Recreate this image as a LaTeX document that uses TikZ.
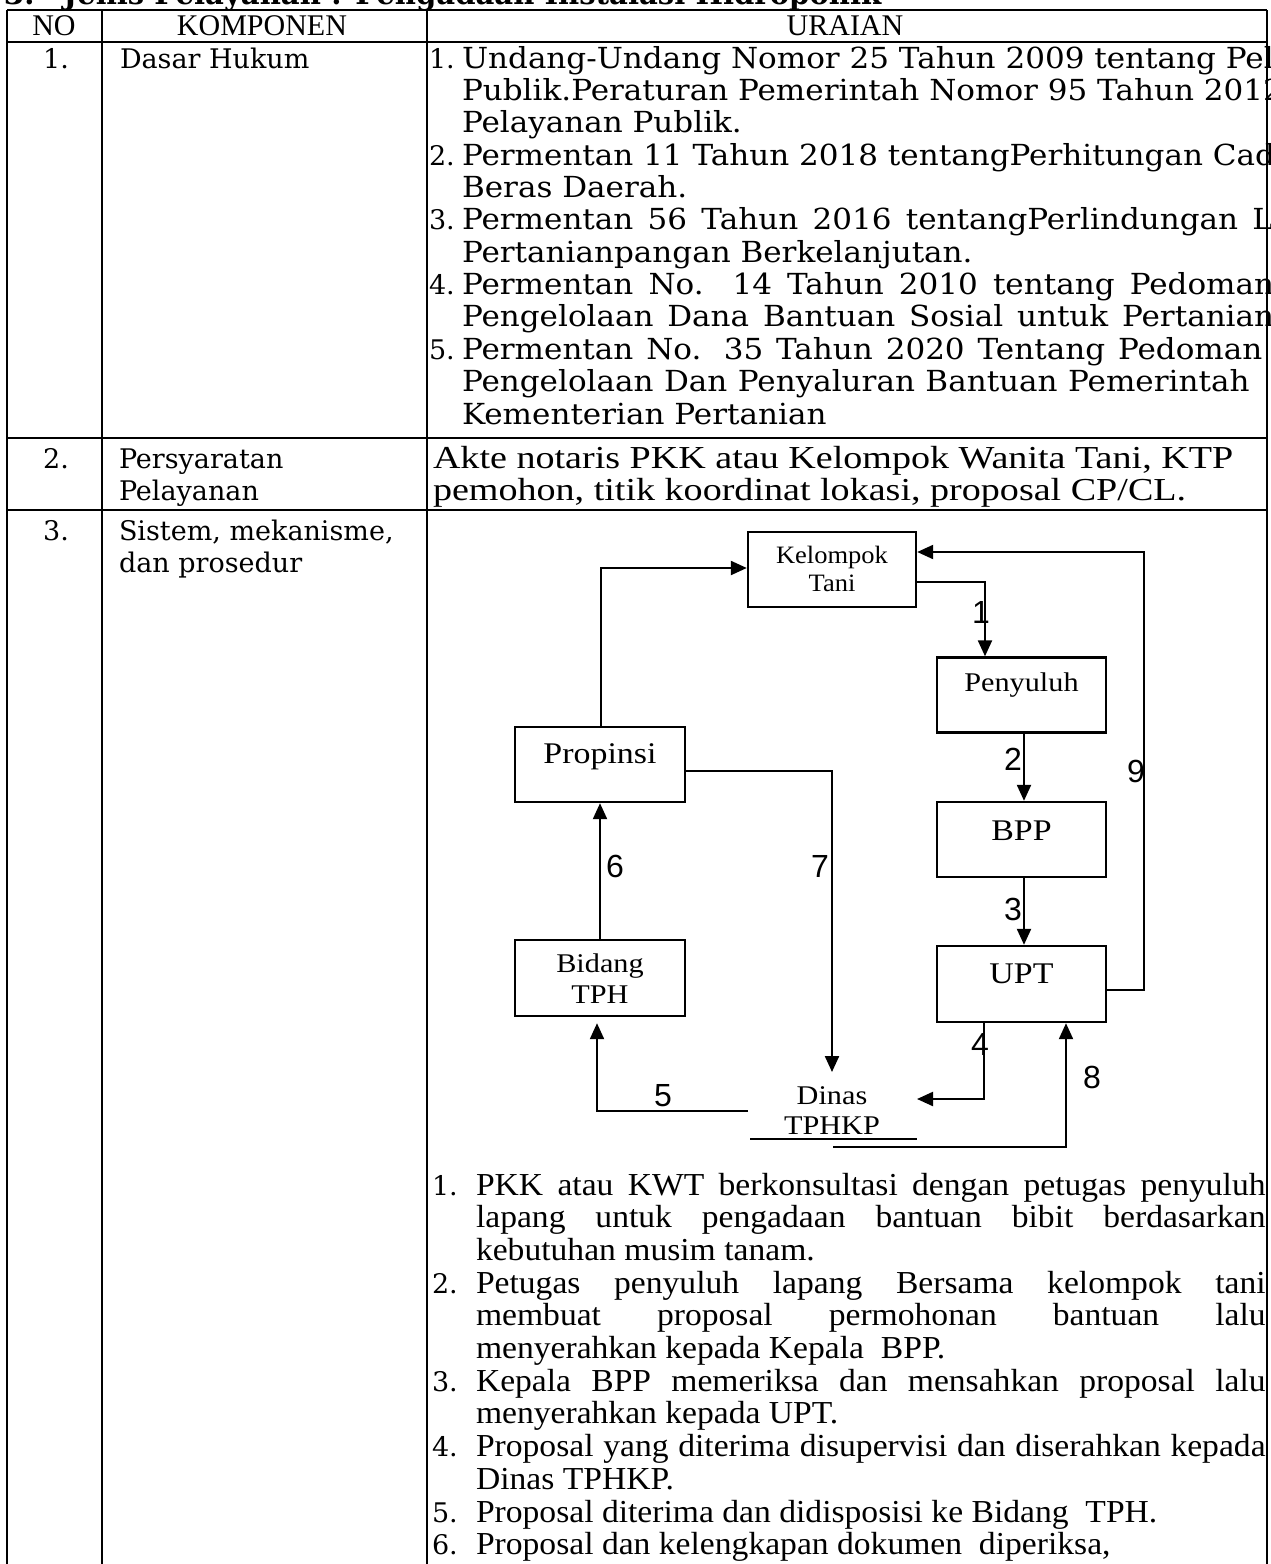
\documentclass[tikz,border=0pt]{standalone}
\usepackage{graphicx}
\usepackage{fontspec}
\setmainfont{Liberation Serif}
\newfontfamily\serifG{DejaVu Serif}
\newfontfamily\sansA{Liberation Sans}
\usetikzlibrary{arrows.meta,calc}

% wide serif used for the legal list and the item numbers
\newcommand\wideText[1]{\scalebox{1.07}[1]{\serifG\fontsize{29}{32}\selectfont #1}}
\newcommand\numText[1]{{\serifG\fontsize{27}{30}\selectfont #1}}
\newcommand\leftText[1]{{\serifG\fontsize{27}{30}\selectfont #1}}
% narrow serif variants
\newcommand\headText[1]{{\fontsize{30}{31}\selectfont #1}}
\newcommand\reqText[1]{\scalebox{1.19}[1]{\fontsize{32}{33}\selectfont #1}}
\newcommand\listText[1]{\scalebox{1.05}[1]{\fontsize{32}{33}\selectfont #1}}
\newcommand\smallBox[1]{\scalebox{1.12}[1]{\fontsize{27}{28}\selectfont #1}}
\newcommand\kelBox[1]{\scalebox{1.06}[1]{\fontsize{25}{26}\selectfont #1}}
\newcommand\bigBox[1]{\scalebox{1.13}[1]{\fontsize{30}{31}\selectfont #1}}

\begin{document}
\begin{tikzpicture}[x=1pt,y=-1pt,
  grid/.style={line width=2.2pt},
  txt/.style={anchor=base west,inner sep=0pt,outer sep=0pt},
  ctr/.style={anchor=base,inner sep=0pt,outer sep=0pt},
  box/.style={draw,line width=2.4pt,inner sep=0pt,minimum width=169pt,minimum height=75pt},
  flow/.style={line width=2.2pt,-{Triangle[length=16pt,width=14pt]}},
  wire/.style={line width=2.2pt},
  lbl/.style={font=\sansA\fontsize{32}{32}\selectfont,inner sep=0pt,outer sep=0pt}]

\useasboundingbox (0,0) rectangle (1270,1564);
\fill[white] (0,0) rectangle (1270,1564);

\begin{scope}
\clip (0,0) rectangle (1270,1564);

% heading above the table, mostly cut off by the page top
\node[txt] (title) at (4,4) {\scalebox{0.97}[1]{\serifG\bfseries\fontsize{30}{32}\selectfont 3.\hspace{30pt}Jenis Pelayanan : Pengadaan Instalasi Hidroponik}};

% table rules
\draw[grid] (7,10) -- (1267,10);
\draw[grid] (7,42) -- (1267,42);
\draw[grid] (7,438) -- (1267,438);
\draw[grid] (7,510) -- (1267,510);
\draw[grid] (7,10) -- (7,1564);
\draw[grid] (102,10) -- (102,1564);
\draw[grid] (427,10) -- (427,1564);
\draw[grid] (1267,10) -- (1267,1564);

% header row
\node[ctr] (hno) at (54,35) {\headText{NO}};
\node[ctr] (hkomp) at (262,35) {\headText{KOMPONEN}};
\node[ctr] (hur) at (845,35) {\headText{URAIAN}};

% row 1: legal basis
\node[ctr] (n1) at (56,68) {\numText{1.}};
\node[txt] (k1) at (120,68) {\leftText{Dasar Hukum}};

\node[txt] (a1) at (429,68) {\numText{1.}};
\node[txt] (a1l1) at (462,68) {\wideText{Undang-Undang Nomor 25 Tahun 2009 tentang Pelayanan}};
\node[txt] (a1l2) at (462,100.4) {\wideText{Publik.Peraturan Pemerintah Nomor 95 Tahun 2012 tentang}};
\node[txt] (a1l3) at (462,132.7) {\wideText{Pelayanan Publik.}};
\node[txt] (a2) at (429,165.1) {\numText{2.}};
\node[txt] (a2l1) at (462,165.1) {\wideText{Permentan 11 Tahun 2018 tentangPerhitungan Cadangan}};
\node[txt] (a2l2) at (462,197.4) {\wideText{Beras Daerah.}};
\node[txt] (a3) at (429,229.8) {\numText{3.}};
\node[txt] (a3l1) at (462,229.8) {\wideText{\makebox[830pt][s]{Permentan 56 Tahun 2016 tentangPerlindungan Lahan}}};
\node[txt] (a3l2) at (462,262.2) {\wideText{Pertanianpangan Berkelanjutan.}};
\node[txt] (a4) at (429,294.5) {\numText{4.}};
\node[txt] (a4l1) at (462,294.5) {\wideText{\makebox[759pt][s]{Permentan No. 14 Tahun 2010 tentang Pedoman}}};
\node[txt] (a4l2) at (462,326.9) {\wideText{\makebox[759pt][s]{Pengelolaan Dana Bantuan Sosial untuk Pertanian}}};
\node[txt] (a5) at (429,359.3) {\numText{5.}};
\node[txt] (a5l1) at (462,359.3) {\wideText{\makebox[748pt][s]{Permentan No. 35 Tahun 2020 Tentang Pedoman}}};
\node[txt] (a5l2) at (462,391.6) {\wideText{\makebox[736pt][s]{Pengelolaan Dan Penyaluran Bantuan Pemerintah}}};
\node[txt] (a5l3) at (462,424) {\wideText{Kementerian Pertanian}};

% row 2: service requirements
\node[ctr] (n2) at (56,468) {\numText{2.}};
\node[txt] (k2a) at (119,468) {\leftText{Persyaratan}};
\node[txt] (k2b) at (119,500) {\leftText{Pelayanan}};
\node[txt] (r2a) at (433,468) {\reqText{Akte notaris PKK atau Kelompok Wanita Tani, KTP}};
\node[txt] (r2b) at (433,500) {\reqText{pemohon, titik koordinat lokasi, proposal CP/CL.}};

% row 3: system, mechanism and procedure
\node[ctr] (n3) at (56,540) {\numText{3.}};
\node[txt] (k3a) at (119,540) {\leftText{Sistem, mekanisme,}};
\node[txt] (k3b) at (119,572) {\leftText{dan prosedur}};

% flow chart boxes
\node[box,minimum width=168pt] (kt) at (832,569.5) {};
\node[ctr] (ktt1) at (832,563) {\kelBox{Kelompok}};
\node[ctr] (ktt2) at (832,591) {\kelBox{Tani}};
\node[box] (py) at (1021.5,695) {};
\node[ctr] (pyt) at (1021.5,691) {\smallBox{Penyuluh}};
\node[box,minimum width=170pt] (pr) at (600,764.5) {};
\node[ctr] (prt) at (600,763) {\bigBox{Propinsi}};
\node[box] (bpp) at (1021.5,839.5) {};
\node[ctr] (bppt) at (1021.5,840) {\bigBox{BPP}};
\node[box,minimum width=170pt,minimum height=76pt] (bt) at (600,978) {};
\node[ctr] (btt1) at (600,972) {\smallBox{Bidang}};
\node[ctr] (btt2) at (600,1003) {\smallBox{TPH}};
\node[box,minimum height=76pt] (upt) at (1021.5,984) {};
\node[ctr] (uptt) at (1021.5,983) {\bigBox{UPT}};
\node[ctr] (dn) at (832,1104) {\smallBox{Dinas}};
\node[ctr] (dnt) at (832,1134) {\smallBox{TPHKP}};

% turning points of the connectors
\coordinate (c1) at (985,582);
\coordinate (c4) at (984,1099);
\coordinate (d4) at (917,1099);
\coordinate (d5) at (748,1111);
\coordinate (c5) at (597,1111);
\coordinate (c7) at (832,771);
\coordinate (d7) at (832,1072);
\coordinate (d8) at (833,1147);
\coordinate (c8) at (1066,1147);
\coordinate (c9a) at (1144,990);
\coordinate (c9b) at (1144,552);
\coordinate (c10) at (601,568);
\coordinate (u1) at (750,1139);
\coordinate (u2) at (917,1139);
\coordinate (x2) at (1024,0);

% connectors
\draw[flow] (kt.east |- c1) -- (c1) -- (c1 |- py.north);
\draw[flow] (x2 |- py.south) -- (x2 |- bpp.north);
\draw[flow] (x2 |- bpp.south) -- (x2 |- upt.north);
\draw[flow] (c4 |- upt.south) -- (c4) -- (d4);
\draw[flow] (d5) -- (c5) -- ($(c5 |- bt.south)+(0,6)$);
\draw[flow] (bt.north) -- (pr.south);
\draw[flow] (pr.east |- c7) -- (c7) -- (d7);
\draw[flow] (d8) -- (c8) -- (c8 |- upt.south);
\draw[flow] (upt.east |- c9a) -- (c9a) -- (c9b) -- (kt.east |- c9b);
\draw[flow] (c10 |- pr.north) -- (c10) -- (kt.west |- c10);
\draw[wire] (u1) -- (u2);

% step numbers on the connectors
\node[lbl,anchor=base east] (l1) at (990,623) {1};
\node[lbl,anchor=base] (l2) at (1013,770) {2};
\node[lbl,anchor=base] (l3) at (1013,920) {3};
\node[lbl,anchor=base] (l4) at (980,1055) {4};
\node[lbl,anchor=base] (l5) at (663,1106) {5};
\node[lbl,anchor=base] (l6) at (615,877) {6};
\node[lbl,anchor=base] (l7) at (820,877) {7};
\node[lbl,anchor=base] (l8) at (1092,1088) {8};
\node[lbl,anchor=base] (l9) at (1136,782) {9};

% numbered procedure
\node[txt] (p1) at (432,1195) {\numText{1.}};
\node[txt] (p1a) at (476,1195) {\listText{\makebox[752pt][s]{PKK atau KWT berkonsultasi dengan petugas penyuluh}}};
\node[txt] (p1b) at (476,1227.7) {\listText{\makebox[752pt][s]{lapang untuk pengadaan bantuan bibit berdasarkan}}};
\node[txt] (p1c) at (476,1260.4) {\listText{kebutuhan musim tanam.}};
\node[txt] (p2) at (432,1293.1) {\numText{2.}};
\node[txt] (p2a) at (476,1293.1) {\listText{\makebox[752pt][s]{Petugas penyuluh lapang Bersama kelompok tani}}};
\node[txt] (p2b) at (476,1325.8) {\listText{\makebox[752pt][s]{membuat proposal permohonan bantuan lalu}}};
\node[txt] (p2c) at (476,1358.5) {\listText{menyerahkan kepada Kepala\ \ BPP.}};
\node[txt] (p3) at (432,1391.2) {\numText{3.}};
\node[txt] (p3a) at (476,1391.2) {\listText{\makebox[752pt][s]{Kepala BPP memeriksa dan mensahkan proposal lalu}}};
\node[txt] (p3b) at (476,1423.9) {\listText{menyerahkan kepada UPT.}};
\node[txt] (p4) at (432,1456.6) {\numText{4.}};
\node[txt] (p4a) at (476,1456.6) {\listText{\makebox[752pt][s]{Proposal yang diterima disupervisi dan diserahkan kepada}}};
\node[txt] (p4b) at (476,1489.3) {\listText{Dinas TPHKP.}};
\node[txt] (p5) at (432,1522) {\numText{5.}};
\node[txt] (p5a) at (476,1522) {\listText{Proposal diterima dan didisposisi ke Bidang\ \ TPH.}};
\node[txt] (p6) at (432,1554.7) {\numText{6.}};
\node[txt] (p6a) at (476,1554.7) {\listText{Proposal dan kelengkapan dokumen\ \ diperiksa,}};
\end{scope}
\end{tikzpicture}
\end{document}
